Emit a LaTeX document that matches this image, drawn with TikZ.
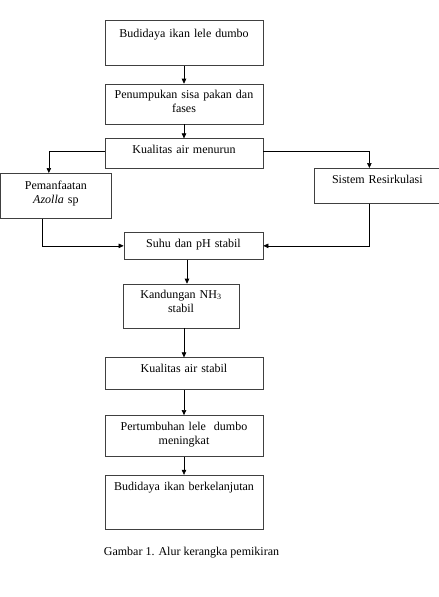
\documentclass[tikz,border=0pt]{standalone}
\usepackage{fontspec}
\setmainfont{Liberation Serif}
\usetikzlibrary{shapes,arrows.meta,positioning,calc}
\tikzstyle{kotak} = [rectangle, draw=black!75, line width=0.7pt, inner sep=0pt, align=center, font=\fontsize{12}{14}\selectfont]
\tikzstyle{line} = [draw, line width=0.6pt, -{Triangle[length=5pt,width=4.5pt]}]

\begin{document}
\begin{tikzpicture}[x=1pt, y=-1pt]
		\useasboundingbox (0,0) rectangle (439,597);
		% Column 1
		\node[kotak, anchor=north, text width=158pt, text height=17pt, text depth=28pt] (budidaya) at (184,20) {Budidaya ikan lele dumbo};
		\node[kotak, below=18pt of budidaya, text width=158pt, text height=14pt, text depth=26pt] (sisa) {Penumpukan sisa pakan dan\\fases};
		\node[kotak, below=14pt of sisa, text width=158pt, text height=14.7pt, text depth=15.3pt] (menurun) {Kualitas air menurun};
		
		% Side boxes
		\node[kotak, anchor=north west, text width=110pt, text height=16pt, text depth=29pt] (azolla) at (0.5,173) {Pemanfaatan\\\textit{Azolla} sp};
		\node[kotak, anchor=north west, text width=126pt, text height=14.7pt, text depth=20.3pt] (resirkulasi) at (314,168) {Sistem Resirkulasi};
		
		% Column 2
		\node[kotak, anchor=north, text width=139pt, text height=15.3pt, text depth=11.7pt] (suhu) at (193.5,232) {Suhu dan pH stabil};
		\node[kotak, below=24pt of suhu, xshift=-12.5pt, text width=116pt, text height=14pt, text depth=30pt] (amonia) {Kandungan NH\textsubscript{3}\\stabil};
		\node[kotak, below=29pt of amonia, xshift=3pt, text width=158pt, text height=14.7pt, text depth=17.3pt] (stabil) {Kualitas air stabil};
		\node[kotak, below=25pt of stabil, text width=158pt, text height=14.7pt, text depth=26.3pt] (tumbuh) {Pertumbuhan lele\ \ dumbo\\meningkat};
		\node[kotak, below=18pt of tumbuh, text width=158pt, text height=15.3pt, text depth=38.7pt] (lanjut) {Budidaya ikan berkelanjutan};
		
		% caption
		\node[font=\fontsize{12}{14}\selectfont, anchor=base] (caption) at (191.5,555) {Gambar 1. Alur kerangka pemikiran};
		
		% Paths
		\path [line] (budidaya) -- (sisa);
		\path [line] (sisa) -- (menurun);
		\path [line] ([yshift=2pt]menurun.west) -| ([xshift=-7pt]azolla.north);
		\path [line] ([yshift=2pt]menurun.east) -| ([xshift=-8pt]resirkulasi.north);
		\path [line] ([xshift=-14pt]azolla.south) |- (suhu.west);
		\path [line] ([xshift=-8pt]resirkulasi.south) |- (suhu.east);
		\path [line] ([xshift=-6.5pt]suhu.south) -- ([xshift=-6.5pt]suhu.south |- amonia.north);
		\path [line] (stabil.north |- amonia.south) -- (stabil.north);
		\path [line] (stabil) -- (tumbuh);
		\path [line] (tumbuh) -- (lanjut);
		
	\end{tikzpicture}
\end{document}
